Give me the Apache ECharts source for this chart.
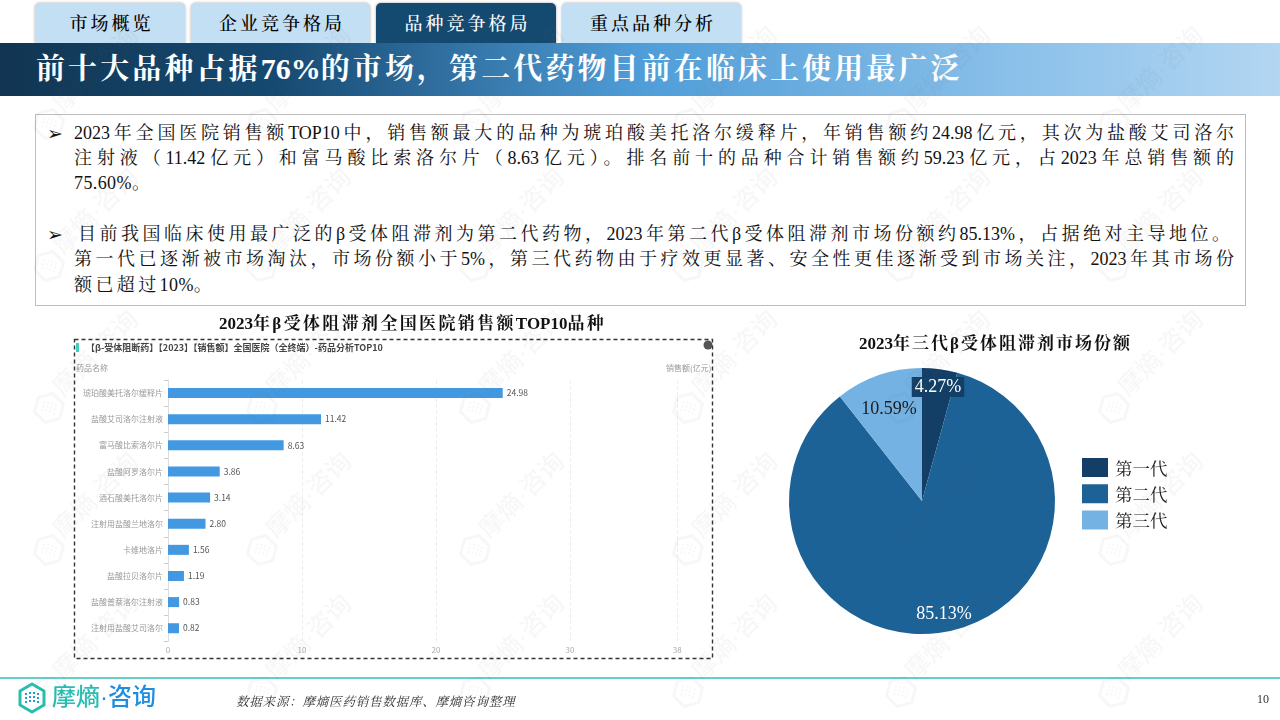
<!DOCTYPE html>
<html lang="zh">
<head>
<meta charset="utf-8">
<style>
html,body{margin:0;padding:0;background:#fff;}
#page{position:relative;width:1280px;height:720px;overflow:hidden;font-family:"Liberation Serif","Noto Serif CJK SC","Noto Sans CJK SC",serif;color:#111;}
#chart{position:absolute;left:0;top:0;width:1280px;height:720px;}
.tab{position:absolute;top:3px;height:40px;border-radius:5px 5px 0 0;background:#c3dff3;box-shadow:0 0 3px rgba(0,0,0,.35);text-align:center;line-height:43px;font-size:18px;letter-spacing:3px;text-indent:3px;color:#000;font-weight:500;}
.tab.on{background:#154a70;color:#fff;}
#banner{position:absolute;left:0;top:43px;width:1280px;height:53px;background:linear-gradient(90deg,#113552 0%,#164a72 22%,#4f9dd8 50%,#8cc1ea 80%,#b3d6f2 100%);}
#banner div{position:absolute;left:36px;top:6px;line-height:40px;font-size:29px;font-weight:bold;letter-spacing:3.1px;color:#fff;white-space:nowrap;}
#banner span{letter-spacing:0;font-size:30px;}
#box{position:absolute;left:35px;top:114px;width:1209px;height:190px;border:1px solid #bdbdbd;}
.ln{position:absolute;left:38px;width:1160px;font-size:18px;line-height:25px;white-space:nowrap;text-align:justify;text-align-last:justify;color:#111;}
.ln.l{text-align-last:left;letter-spacing:.4px;}
.ln.l i{font-style:normal;letter-spacing:3.4px;}
.bu{position:absolute;left:11px;font-size:19px;line-height:25px;font-weight:bold;font-family:"DejaVu Sans";}
.ct{position:absolute;font-size:17px;line-height:20px;font-weight:bold;letter-spacing:2px;white-space:nowrap;color:#111;}
.ct span{letter-spacing:0;}
#foot{position:absolute;left:0;top:677px;width:1280px;height:2px;background:#62d0c8;}
#logo{position:absolute;left:17px;top:682px;}
#logoT{position:absolute;left:52px;top:681px;font:500 24px/32px "Liberation Sans","Noto Sans CJK SC";white-space:nowrap;color:#28bdb0;}
#logoT b{font-weight:500;color:#1e8ee0;}
#src{position:absolute;left:236px;top:694px;font-size:12.5px;line-height:16px;font-style:italic;letter-spacing:.8px;color:#333;white-space:nowrap;}
#pg{position:absolute;left:1257px;top:692px;font-size:12px;line-height:14px;color:#333;}
#wm{position:absolute;left:0;top:0;width:1280px;height:720px;pointer-events:none;overflow:hidden;}
.w{position:absolute;font:500 25px/30px "Liberation Sans","Noto Sans CJK SC";color:rgba(110,110,110,.055);white-space:nowrap;transform-origin:0 50%;transform:rotate(-45deg);}
.wi{position:absolute;}
</style>
</head>
<body>
<div id="page">
  <div class="tab" style="left:35px;width:150px">市场概览</div>
  <div class="tab" style="left:191px;width:179px">企业竞争格局</div>
  <div class="tab on" style="left:376px;width:180px">品种竞争格局</div>
  <div class="tab" style="left:562px;width:179px">重点品种分析</div>
  <div id="banner"><div>前十大品种占据<span>76%</span>的市场，第二代药物目前在临床上使用最广泛</div></div>
  <div id="box">
    <div class="bu" style="top:6px">➢</div>
    <div class="ln" style="top:6px">2023年全国医院销售额TOP10中，销售额最大的品种为琥珀酸美托洛尔缓释片，年销售额约24.98亿元，其次为盐酸艾司洛尔</div>
    <div class="ln" style="top:31px">注射液（11.42亿元）和富马酸比索洛尔片（8.63亿元）。排名前十的品种合计销售额约59.23亿元，占2023年总销售额的</div>
    <div class="ln l" style="top:56px">75.60%。</div>
    <div class="bu" style="top:107px">➢</div>
    <div class="ln" style="top:107px;left:42px;width:1152px">目前我国临床使用最广泛的β受体阻滞剂为第二代药物，2023年第二代β受体阻滞剂市场份额约85.13%，占据绝对主导地位。</div>
    <div class="ln" style="top:132px">第一代已逐渐被市场淘汰，市场份额小于5%，第三代药物由于疗效更显著、安全性更佳逐渐受到市场关注，2023年其市场份</div>
    <div class="ln l" style="top:158px"><i>额已超过</i>10%。</div>
  </div>
  <div id="chart"></div>
  <div class="ct" style="left:219px;top:314px;letter-spacing:2.35px"><span>2023</span>年β受体阻滞剂全国医院销售额<span>TOP10</span>品种</div>
  <div class="ct" style="left:859px;top:334px"><span>2023</span>年三代β受体阻滞剂市场份额</div>
  <div id="foot"></div>
  <svg id="logo" width="30" height="32" viewBox="0 0 30 32">
    <path d="M15 2 L27 9 L27 23 L15 30 L3 23 L3 9 Z" fill="none" stroke="#28bdb0" stroke-width="3" stroke-linejoin="round"/>
    <path d="M9 11v10M13 10v12M17 10v12M21 11v10" stroke="#1e9fd0" stroke-width="2" stroke-dasharray="2 2"/>
  </svg>
  <div id="logoT">摩熵<b>·咨询</b></div>
  <div id="src">数据来源：摩熵医药销售数据库、摩熵咨询整理</div>
  <div id="pg">10</div>
  <div id="wm"></div>
</div>
<script src="https://cdn.jsdelivr.net/npm/echarts@6/dist/echarts.min.js"></script>
<script>
var drugNames = ['琥珀酸美托洛尔缓释片','盐酸艾司洛尔注射液','富马酸比索洛尔片','盐酸阿罗洛尔片','酒石酸美托洛尔片','注射用盐酸兰地洛尔','卡维地洛片','盐酸拉贝洛尔片','盐酸普萘洛尔注射液','注射用盐酸艾司洛尔'];
var salesValues = [24.98,11.42,8.63,3.86,3.14,2.80,1.56,1.19,0.83,0.82];
var generationNames = ['第一代','第二代','第三代'];
var generationShares = [4.27,85.13,10.59];
var generationColors = ['#133f66','#1c6296','#73b2e3'];

// watermark
var wm = document.getElementById('wm'), html = '';
for (var i = -1; i < 7; i++) for (var j = -1; j < 6; j++) {
  var x = 49 + 213 * i, y = 124 + 142 * j;
  html += '<svg class="wi" width="34" height="34" viewBox="0 0 34 34" style="left:' + (x - 17) + 'px;top:' + (y - 17) + 'px;transform:rotate(15deg)"><path d="M17 2 L30 9.5 L30 24.5 L17 32 L4 24.5 L4 9.5 Z" fill="none" stroke="rgba(110,110,110,.055)" stroke-width="3" stroke-linejoin="round"/><path d="M11 12v10M15 11v12M19 11v12M23 12v10" stroke="rgba(110,110,110,.055)" stroke-width="2" stroke-dasharray="2 2"/></svg>';
  html += '<div class="w" style="left:' + (x + 8) + 'px;top:' + (y - 32) + 'px">摩熵·咨询</div>';
}
wm.innerHTML = html;

var serif = '"Liberation Serif","Noto Serif CJK SC","Noto Sans CJK SC",serif';
var sans = '"Noto Sans CJK SC","Noto Sans",sans-serif';
var labelSpots = [
  {x: 938, y: 386, color: '#fff', bg: '#133f66'},
  {x: 944, y: 613, color: '#fff', bg: 'transparent'},
  {x: 889, y: 408, color: '#1a1a1a', bg: 'transparent'}
];
var chart = echarts.init(document.getElementById('chart'), null, {renderer: 'canvas'});
chart.setOption({
  animation: false,
  title: [
    {text: '【β-受体阻断药】【2023】【销售额】全国医院（全终端）-药品分析TOP10', left: 86, top: 343, padding: 0, textStyle: {fontFamily: sans, fontSize: 9, fontWeight: 'bold', color: '#444'}},
    {text: '药品名称', left: 76, top: 364, padding: 0, textStyle: {fontFamily: sans, fontSize: 8, fontWeight: 'normal', color: '#999'}},
    {text: '销售额(亿元)', left: 666, top: 364, padding: 0, textStyle: {fontFamily: sans, fontSize: 8, fontWeight: 'normal', color: '#999'}}
  ],
  grid: {left: 168, top: 380, width: 509.2, height: 261.3, containLabel: false},
  xAxis: {
    type: 'value', min: 0, max: 38, interval: 10,
    axisLine: {show: false}, axisTick: {show: false},
    axisLabel: {color: '#aaa', fontSize: 8, fontFamily: sans, margin: 5, showMaxLabel: true},
    splitLine: {show: true, lineStyle: {color: '#eeeeee', type: 'dashed', width: 1}}
  },
  yAxis: {
    type: 'category', inverse: true, data: drugNames,
    axisLine: {show: true, lineStyle: {color: '#dddddd'}},
    axisTick: {show: true, length: 4, lineStyle: {color: '#cccccc'}},
    axisLabel: {color: '#9a9a9a', fontSize: 8, fontFamily: sans, margin: 5}
  },
  legend: {
    orient: 'vertical', left: 1082, top: 458, itemWidth: 26, itemHeight: 19, itemGap: 5.5,
    icon: 'rect', selectedMode: false, padding: 0,
    data: generationNames,
    formatter: '{n|{name}}',
    textStyle: {
      fontFamily: serif, fontSize: 17.5, color: '#222', padding: [0, 0, 0, 2],
      rich: {n: {fontFamily: serif, fontSize: 17.5, color: '#222', padding: [5, 0, 0, 0]}}
    }
  },
  series: [
    {
      type: 'bar', data: salesValues, barWidth: 10, itemStyle: {color: '#4299e1'},
      label: {show: true, position: 'right', distance: 4, fontSize: 8.5, fontFamily: sans, color: '#555',
        formatter: function (p) { return p.value.toFixed(2); }}
    },
    {
      type: 'pie', center: [922, 501], radius: [0, 133], startAngle: 90, clockwise: true,
      data: generationNames.map(function (n, k) {
        return {name: n, value: generationShares[k], itemStyle: {color: generationColors[k]},
          label: {color: labelSpots[k].color, backgroundColor: labelSpots[k].bg, padding: [1, 3]}};
      }),
      label: {
        show: true, position: 'inside', fontFamily: serif, fontSize: 18,
        formatter: function (p) { return p.value.toFixed(2) + '%'; }
      },
      labelLine: {show: false},
      labelLayout: function (p) { var s = labelSpots[p.dataIndex]; return {x: s.x, y: s.y + 1, align: 'center', verticalAlign: 'middle'}; }
    }
  ],
  graphic: [
    {type: 'rect', shape: {x: 76, y: 343, width: 3, height: 9}, style: {fill: '#3fcfc0'}, z: 5},
    {type: 'circle', shape: {cx: 708, cy: 345, r: 4.5}, style: {fill: '#555'}, z: 5},
    {type: 'rect', shape: {x: 74.5, y: 339.5, width: 638, height: 319}, style: {fill: 'none', stroke: '#333', lineWidth: 1.4, lineDash: [4, 3]}, z: 6}
  ]
});
</script>
</body>
</html>
